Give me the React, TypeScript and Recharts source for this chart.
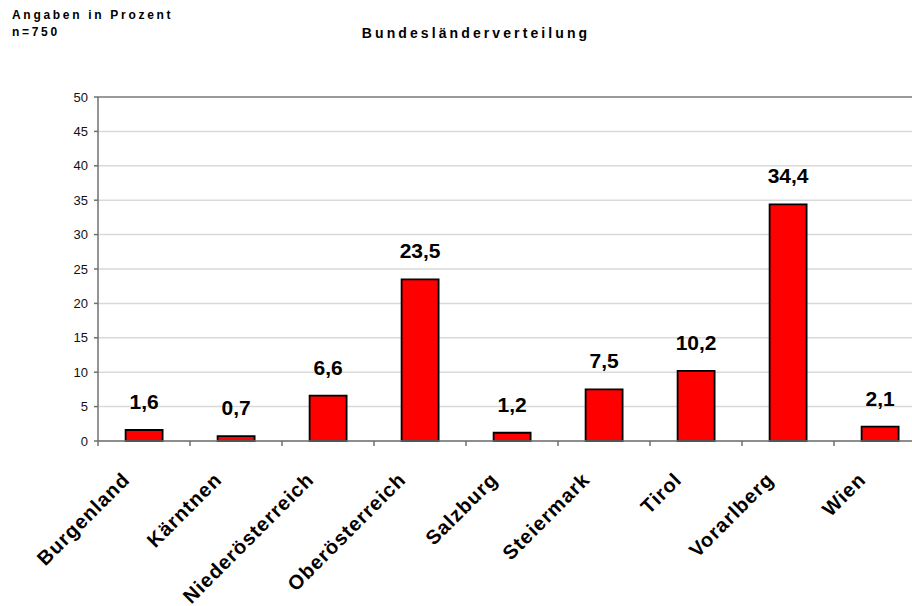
import React from 'react';
import { BarChart, Bar, XAxis, YAxis, CartesianGrid, LabelList, ReferenceLine } from 'recharts';

const categories = ['Burgenland', 'Kärntnen', 'Niederösterreich', 'Oberösterreich', 'Salzburg', 'Steiermark', 'Tirol', 'Vorarlberg', 'Wien'];
const values = [1.6, 0.7, 6.6, 23.5, 1.2, 7.5, 10.2, 34.4, 2.1];
const yTicks = [0, 5, 10, 15, 20, 25, 30, 35, 40, 45, 50];
const title = 'Bundesländerverteilung';
const note1 = 'Angaben in Prozent';
const note2 = 'n=750';

const data = categories.map((name, i) => ({ name, value: values[i] }));

const FONT = "'Liberation Sans', Arial, sans-serif";

const XTick = (props: any) => {
  const { x, y, payload, index } = props;
  const off = payload && payload.offset ? payload.offset : 46;
  const last = index === categories.length - 1;
  return (
    <g>
      <line x1={x - off} x2={x - off} y1={y} y2={y + 5} stroke="#707070" strokeWidth={1.5} />
      {last && <line x1={x + off} x2={x + off} y1={y} y2={y + 5} stroke="#707070" strokeWidth={1.5} />}
      <text
        transform={`translate(${x - 13},${y + 40}) rotate(-45)`}
        textAnchor="end"
        fontFamily={FONT}
        fontWeight="bold"
        fontSize={20}
        letterSpacing={1}
        fill="#000"
      >
        {payload.value}
      </text>
    </g>
  );
};

export default function App() {
  return (
    <div style={{ position: 'absolute', left: 0, top: 0, width: 912, height: 606, overflow: 'hidden', background: '#fff' }}>
      <svg width={912} height={50} style={{ position: 'absolute', left: 0, top: 0 }}>
        <text x={12} y={19} fontFamily={FONT} fontWeight="bold" fontSize={12} letterSpacing={2.7} fill="#000">{note1}</text>
        <text x={12} y={36} fontFamily={FONT} fontWeight="bold" fontSize={12} letterSpacing={2.7} fill="#000">{note2}</text>
        <text x={476} y={38} textAnchor="middle" fontFamily={FONT} fontWeight="bold" fontSize={14} letterSpacing={3.1} fill="#000">{title}</text>
      </svg>
      <div style={{ position: 'absolute', left: 0, top: 0 }}>
        <BarChart
          width={940}
          height={606}
          data={data}
          margin={{ top: 97, right: 14, bottom: 45, left: 38 }}
          barCategoryGap="30%"
        >
          <CartesianGrid horizontal vertical={false} stroke="#d9d9d9" strokeWidth={1.5} />
          <ReferenceLine y={50} stroke="#808080" strokeWidth={1.5} />
          <XAxis
            dataKey="name"
            interval={0}
            height={120}
            tickLine={false}
            tickSize={0}
            tickMargin={0}
            axisLine={{ stroke: '#707070', strokeWidth: 1.5 }}
            tick={<XTick />}
          />
          <YAxis
            width={60}
            domain={[0, 50]}
            ticks={yTicks}
            interval={0}
            tickSize={4}
            tickMargin={6}
            axisLine={{ stroke: '#707070', strokeWidth: 1.5 }}
            tickLine={{ stroke: '#707070', strokeWidth: 1.5 }}
            tick={{ fontFamily: FONT, fontSize: 13, fill: '#111' }}
          />
          <Bar dataKey="value" fill="#ff0000" stroke="#000" strokeWidth={1.8} isAnimationActive={false}>
            <LabelList
              dataKey="value"
              position="top"
              offset={21}
              formatter={(v: any) => Number(v).toFixed(1).replace('.', ',')}
              style={{ fontFamily: FONT, fontWeight: 'bold', fontSize: 21, fill: '#000' }}
            />
          </Bar>
        </BarChart>
      </div>
    </div>
  );
}
